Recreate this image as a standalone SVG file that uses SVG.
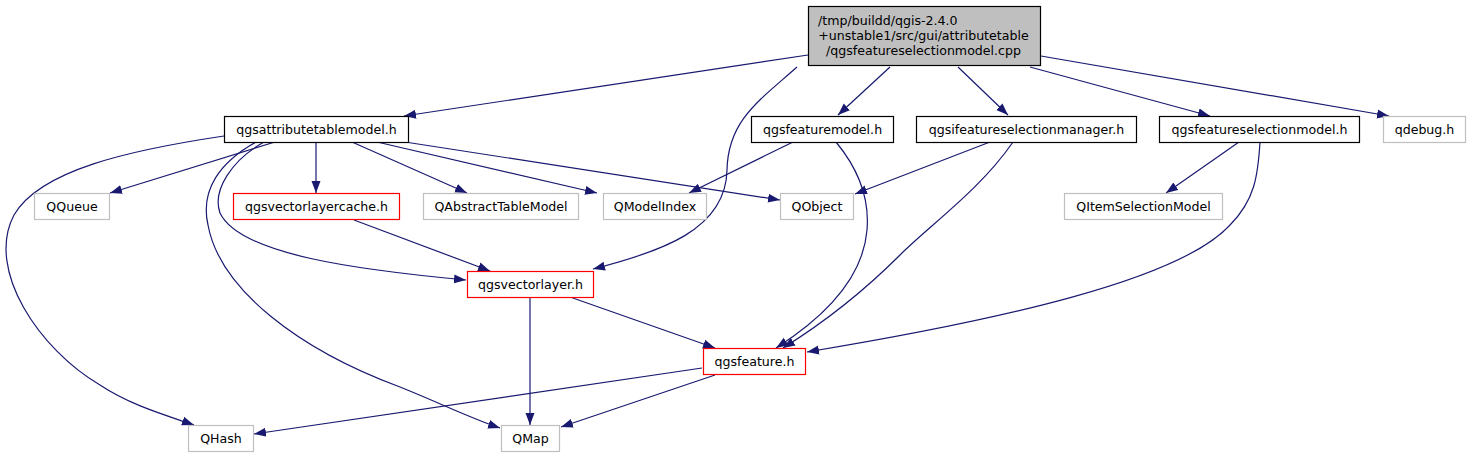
<svg xmlns="http://www.w3.org/2000/svg" width="1472" height="459" viewBox="0 0 1472 459">
<defs>
<marker id="arr" viewBox="0 0 12 10" refX="12" refY="5" markerWidth="12" markerHeight="10" markerUnits="userSpaceOnUse" orient="auto">
<path d="M0,0.5 L12,5 L0,9.5 z" fill="#191970"/>
</marker>
<style>
.e{fill:none;stroke:#191970;stroke-width:1.2;marker-end:url(#arr)}
text{font-family:"DejaVu Sans","Liberation Sans",sans-serif;font-size:12.6px;fill:#000000;text-anchor:middle}
</style>
</defs>
<rect width="1472" height="459" fill="#ffffff"/>
<g id="connectors">
<path class="e" d="M808,55 L404,116"/>
<path class="e" d="M797,67 C760,100 728,120 727,170 C726,230 660,252 593,269"/>
<path class="e" d="M890,67 L838,115"/>
<path class="e" d="M958,67 L1008,115"/>
<path class="e" d="M1030,67 L1210,116"/>
<path class="e" d="M1041,56 L1389,116"/>
<path class="e" d="M224,136 C130,150 40,170 14,215 C-15,270 40,350 100,385 C130,405 165,415 194,425"/>
<path class="e" d="M275,142 L110,193"/>
<path class="e" d="M316,142 L316,193"/>
<path class="e" d="M352,142 L467,193"/>
<path class="e" d="M377,142 L597,193"/>
<path class="e" d="M405,142 L780,200"/>
<path class="e" d="M264,142 C232,160 212,190 220,213 C240,255 360,270 466,280"/>
<path class="e" d="M256,142 C220,162 200,190 208,225 C220,290 300,350 400,387 C440,403 470,418 500,428"/>
<path class="e" d="M354,220 L490,271"/>
<path class="e" d="M793,142 L689,193"/>
<path class="e" d="M836,142 C855,165 870,195 867,230 C863,280 820,320 776,348"/>
<path class="e" d="M990,142 L855,194"/>
<path class="e" d="M1013,142 C980,190 930,225 900,255 C860,295 820,325 783,348"/>
<path class="e" d="M1239,142 L1166,193"/>
<path class="e" d="M1260,142 C1258,175 1255,200 1230,225 C1180,280 1000,320 807,352"/>
<path class="e" d="M530,297 L530,425"/>
<path class="e" d="M570,297 L715,348"/>
<path class="e" d="M702,368 L254,434"/>
<path class="e" d="M715,375 L561,427"/>
</g>
<g id="node-top"><rect x="808.5" y="6.5" width="232" height="59" fill="#bfbfbf" stroke="#000000" stroke-width="1.2"/>
<text x="818" y="25" style="text-anchor:start">/tmp/buildd/qgis-2.4.0</text>
<text x="923.5" y="40">+unstable1/src/gui/attributetable</text>
<text x="923.5" y="55">/qgsfeatureselectionmodel.cpp</text></g>
<g id="node-qgsattributetablemodel"><rect x="224.5" y="116.5" width="184" height="26" fill="#ffffff" stroke="#000000" stroke-width="1.2"/><text x="316.5" y="134">qgsattributetablemodel.h</text></g>
<g id="node-qgsfeaturemodel"><rect x="751.5" y="116.5" width="142" height="26" fill="#ffffff" stroke="#000000" stroke-width="1.2"/><text x="822.5" y="134">qgsfeaturemodel.h</text></g>
<g id="node-qgsifeatureselectionmanager"><rect x="916.5" y="116.5" width="220" height="26" fill="#ffffff" stroke="#000000" stroke-width="1.2"/><text x="1026.5" y="134">qgsifeatureselectionmanager.h</text></g>
<g id="node-qgsfeatureselectionmodel"><rect x="1159.5" y="116.5" width="200" height="26" fill="#ffffff" stroke="#000000" stroke-width="1.2"/><text x="1259.5" y="134">qgsfeatureselectionmodel.h</text></g>
<g id="node-qdebug"><rect x="1383.5" y="116.5" width="82" height="26" fill="#ffffff" stroke="#bfbfbf" stroke-width="1.2"/><text x="1424.5" y="134">qdebug.h</text></g>
<g id="node-QQueue"><rect x="34.5" y="193.5" width="75" height="26" fill="#ffffff" stroke="#bfbfbf" stroke-width="1.2"/><text x="72" y="211">QQueue</text></g>
<g id="node-qgsvectorlayercache"><rect x="233.5" y="193.5" width="166" height="26" fill="#ffffff" stroke="#ff0000" stroke-width="1.2"/><text x="316.5" y="211">qgsvectorlayercache.h</text></g>
<g id="node-QAbstractTableModel"><rect x="423.5" y="193.5" width="155" height="26" fill="#ffffff" stroke="#bfbfbf" stroke-width="1.2"/><text x="501" y="211">QAbstractTableModel</text></g>
<g id="node-QModelIndex"><rect x="603.5" y="193.5" width="103" height="26" fill="#ffffff" stroke="#bfbfbf" stroke-width="1.2"/><text x="655" y="211">QModelIndex</text></g>
<g id="node-QObject"><rect x="780.5" y="193.5" width="73" height="26" fill="#ffffff" stroke="#bfbfbf" stroke-width="1.2"/><text x="817" y="211">QObject</text></g>
<g id="node-QItemSelectionModel"><rect x="1064.5" y="193.5" width="158" height="26" fill="#ffffff" stroke="#bfbfbf" stroke-width="1.2"/><text x="1143.5" y="211">QItemSelectionModel</text></g>
<g id="node-qgsvectorlayer"><rect x="467.5" y="271.5" width="126" height="26" fill="#ffffff" stroke="#ff0000" stroke-width="1.2"/><text x="530.5" y="289">qgsvectorlayer.h</text></g>
<g id="node-qgsfeature"><rect x="703.5" y="348.5" width="102" height="26" fill="#ffffff" stroke="#ff0000" stroke-width="1.2"/><text x="754.5" y="366">qgsfeature.h</text></g>
<g id="node-QHash"><rect x="188.5" y="425.5" width="65" height="26" fill="#ffffff" stroke="#bfbfbf" stroke-width="1.2"/><text x="221" y="443">QHash</text></g>
<g id="node-QMap"><rect x="501.5" y="425.5" width="58" height="26" fill="#ffffff" stroke="#bfbfbf" stroke-width="1.2"/><text x="530.5" y="443">QMap</text></g>
</svg>
